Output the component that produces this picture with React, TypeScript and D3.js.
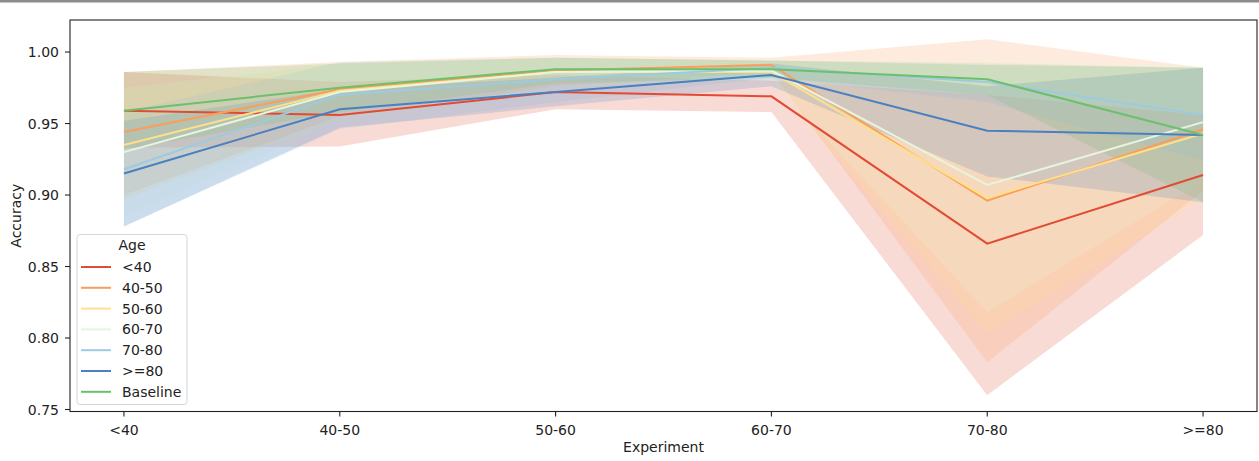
import React from "react";
import * as d3 from "d3";

const categories = ["<40", "40-50", "50-60", "60-70", "70-80", ">=80"];
const seriesNames = ["<40", "40-50", "50-60", "60-70", "70-80", ">=80", "Baseline"];
const seriesColors = ["#e34a33", "#fc9d5a", "#fee08b", "#e5f5e0", "#9ecae1", "#4a80c0", "#6cc06c"];

const meanLt40 = [0.959, 0.956, 0.972, 0.969, 0.866, 0.914];
const mean40_50 = [0.944, 0.974, 0.987, 0.991, 0.896, 0.946];
const mean50_60 = [0.935, 0.973, 0.986, 0.986, 0.898, 0.943];
const mean60_70 = [0.930, 0.972, 0.986, 0.987, 0.907, 0.951];
const mean70_80 = [0.918, 0.970, 0.981, 0.989, 0.979, 0.956];
const meanGe80 = [0.915, 0.960, 0.972, 0.984, 0.945, 0.942];
const meanBaseline = [0.959, 0.975, 0.988, 0.988, 0.981, 0.942];

const lowLt40 = [0.933, 0.934, 0.960, 0.958, 0.760, 0.872];
const highLt40 = [0.986, 0.979, 0.984, 0.980, 0.970, 0.956];
const low40_50 = [0.900, 0.955, 0.976, 0.986, 0.783, 0.903];
const high40_50 = [0.986, 0.993, 0.998, 0.996, 1.009, 0.989];
const low50_60 = [0.897, 0.953, 0.975, 0.980, 0.803, 0.897];
const high50_60 = [0.973, 0.992, 0.996, 0.994, 0.993, 0.988];
const low60_70 = [0.885, 0.952, 0.975, 0.981, 0.818, 0.910];
const high60_70 = [0.975, 0.992, 0.996, 0.993, 0.996, 0.990];
const low70_80 = [0.878, 0.946, 0.965, 0.982, 0.965, 0.924];
const high70_80 = [0.958, 0.993, 0.996, 0.994, 0.992, 0.989];
const lowGe80 = [0.878, 0.947, 0.962, 0.976, 0.913, 0.895];
const highGe80 = [0.952, 0.974, 0.982, 0.992, 0.976, 0.989];
const lowBaseline = [0.932, 0.958, 0.978, 0.982, 0.970, 0.895];
const highBaseline = [0.986, 0.992, 0.996, 0.994, 0.991, 0.989];

const means = [meanLt40, mean40_50, mean50_60, mean60_70, mean70_80, meanGe80, meanBaseline];
const lows = [lowLt40, low40_50, low50_60, low60_70, low70_80, lowGe80, lowBaseline];
const highs = [highLt40, high40_50, high50_60, high60_70, high70_80, highGe80, highBaseline];

const yTicks = [0.75, 0.8, 0.85, 0.9, 0.95, 1.0];

const W = 1259;
const H = 461;
const left = 70;
const right = 1257;
const top = 20;
const bottom = 411.5;
const FONT = "DejaVu Sans, sans-serif";
const FS = 14;

export default function App() {
  // matplotlib-style margins: 5% of the 0..5 span on each side
  const xi = d3.scaleLinear().domain([-0.25, categories.length - 1 + 0.25]).range([left, right]);
  const y = d3.scaleLinear().domain([0.7486, 1.0224]).range([bottom, top]);

  const line = d3
    .line<number>()
    .x((_, i) => xi(i))
    .y((d) => y(d));

  const bands = seriesNames.map((_, s) =>
    d3
      .area<number>()
      .x((_, i) => xi(i))
      .y0((_, i) => y(lows[s][i]))
      .y1((_, i) => y(highs[s][i]))(categories.map((_, i) => i))
  );

  const legX = 77;
  const legY = 234.5;
  const legW = 110;
  const legH = 170;

  return (
    <svg
      width={W}
      height={H}
      style={{ position: "absolute", left: 0, top: 0, background: "#fff" }}
      fontFamily={FONT}
    >
      <rect x={0} y={0} width={W} height={H} fill="#fff" />
      <rect x={0} y={0} width={W} height={2.5} fill="#8c8c8c" />

      <defs>
        <clipPath id="plotclip">
          <rect x={left} y={top} width={right - left} height={bottom - top} />
        </clipPath>
      </defs>

      <g clipPath="url(#plotclip)">
        {seriesNames.map((name, s) => (
          <path key={"b" + name} d={bands[s] || ""} fill={seriesColors[s]} fillOpacity={0.2} stroke="none" />
        ))}
        {seriesNames.map((name, s) => (
          <path key={"l" + name} d={line(means[s]) || ""} fill="none" stroke={seriesColors[s]} strokeWidth={2} />
        ))}
      </g>

      {/* spines */}
      <rect x={left} y={top} width={right - left} height={bottom - top} fill="none" stroke="#222" strokeWidth={1.1} />

      {/* y ticks */}
      {yTicks.map((t) => (
        <g key={t}>
          <line x1={left - 5} x2={left} y1={y(t)} y2={y(t)} stroke="#222" strokeWidth={1.1} />
          <text x={left - 11} y={y(t)} dy="0.36em" textAnchor="end" fontSize={FS} fill="#222">
            {t.toFixed(2)}
          </text>
        </g>
      ))}

      {/* x ticks */}
      {categories.map((c, i) => (
        <g key={c}>
          <line x1={xi(i)} x2={xi(i)} y1={bottom} y2={bottom + 5} stroke="#222" strokeWidth={1.1} />
          <text x={xi(i)} y={bottom + 23} textAnchor="middle" fontSize={FS} fill="#222">
            {c}
          </text>
        </g>
      ))}

      <text x={(left + right) / 2} y={452} textAnchor="middle" fontSize={FS} fill="#222">
        Experiment
      </text>
      <text
        transform={`translate(21,${(top + bottom) / 2}) rotate(-90)`}
        textAnchor="middle"
        fontSize={FS}
        fill="#222"
      >
        Accuracy
      </text>

      {/* legend */}
      <rect x={legX} y={legY} width={legW} height={legH} rx={3} fill="#fff" fillOpacity={0.8} stroke="#d6d6d6" strokeWidth={1} />
      <text x={legX + legW / 2} y={legY + 15} textAnchor="middle" fontSize={FS} fill="#222">
        Age
      </text>
      {seriesNames.map((name, s) => {
        const yy = legY + 32.5 + s * 20.8;
        return (
          <g key={name}>
            <line x1={legX + 4} x2={legX + 34} y1={yy} y2={yy} stroke={seriesColors[s]} strokeWidth={2} />
            <text x={legX + 45} y={yy} dy="0.36em" fontSize={FS} fill="#222">
              {name}
            </text>
          </g>
        );
      })}
    </svg>
  );
}
